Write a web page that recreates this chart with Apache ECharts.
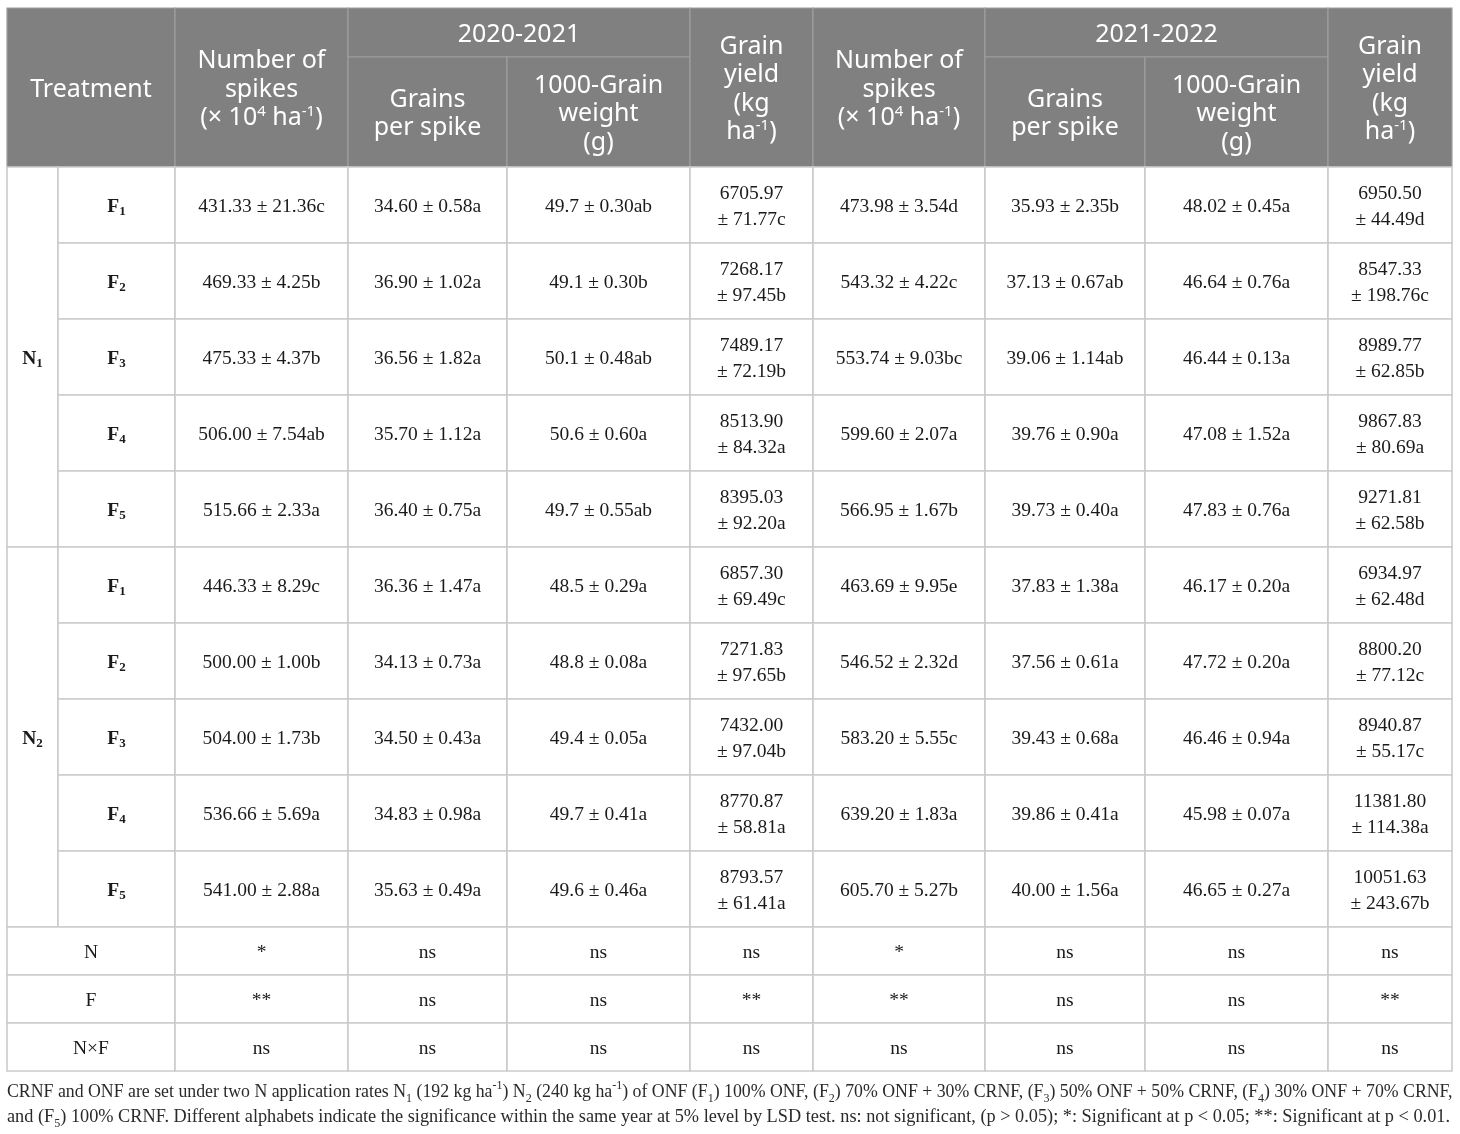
<!DOCTYPE html>
<html><head><meta charset="utf-8">
<script src="https://cdn.jsdelivr.net/npm/echarts@6/dist/echarts.min.js"></script>
<style>html,body{margin:0;padding:0;background:#fff}#c{width:1460px;height:1134px}</style>
</head><body><div id="c"></div>
<script>
// ---------------- DATA ----------------
const nLevels = ['N1', 'N2'];
const fLevels = ['F1', 'F2', 'F3', 'F4', 'F5'];
const yearLabels = ['2020-2021', '2021-2022'];
const sigLabels = ['N', 'F', 'N×F'];

const spikes2021 = ['431.33 ± 21.36c','469.33 ± 4.25b','475.33 ± 4.37b','506.00 ± 7.54ab','515.66 ± 2.33a',
                    '446.33 ± 8.29c','500.00 ± 1.00b','504.00 ± 1.73b','536.66 ± 5.69a','541.00 ± 2.88a'];
const grains2021 = ['34.60 ± 0.58a','36.90 ± 1.02a','36.56 ± 1.82a','35.70 ± 1.12a','36.40 ± 0.75a',
                    '36.36 ± 1.47a','34.13 ± 0.73a','34.50 ± 0.43a','34.83 ± 0.98a','35.63 ± 0.49a'];
const tgw2021    = ['49.7 ± 0.30ab','49.1 ± 0.30b','50.1 ± 0.48ab','50.6 ± 0.60a','49.7 ± 0.55ab',
                    '48.5 ± 0.29a','48.8 ± 0.08a','49.4 ± 0.05a','49.7 ± 0.41a','49.6 ± 0.46a'];
const yield2021  = ['6705.97 ± 71.77c','7268.17 ± 97.45b','7489.17 ± 72.19b','8513.90 ± 84.32a','8395.03 ± 92.20a',
                    '6857.30 ± 69.49c','7271.83 ± 97.65b','7432.00 ± 97.04b','8770.87 ± 58.81a','8793.57 ± 61.41a'];
const spikes2122 = ['473.98 ± 3.54d','543.32 ± 4.22c','553.74 ± 9.03bc','599.60 ± 2.07a','566.95 ± 1.67b',
                    '463.69 ± 9.95e','546.52 ± 2.32d','583.20 ± 5.55c','639.20 ± 1.83a','605.70 ± 5.27b'];
const grains2122 = ['35.93 ± 2.35b','37.13 ± 0.67ab','39.06 ± 1.14ab','39.76 ± 0.90a','39.73 ± 0.40a',
                    '37.83 ± 1.38a','37.56 ± 0.61a','39.43 ± 0.68a','39.86 ± 0.41a','40.00 ± 1.56a'];
const tgw2122    = ['48.02 ± 0.45a','46.64 ± 0.76a','46.44 ± 0.13a','47.08 ± 1.52a','47.83 ± 0.76a',
                    '46.17 ± 0.20a','47.72 ± 0.20a','46.46 ± 0.94a','45.98 ± 0.07a','46.65 ± 0.27a'];
const yield2122  = ['6950.50 ± 44.49d','8547.33 ± 198.76c','8989.77 ± 62.85b','9867.83 ± 80.69a','9271.81 ± 62.58b',
                    '6934.97 ± 62.48d','8800.20 ± 77.12c','8940.87 ± 55.17c','11381.80 ± 114.38a','10051.63 ± 243.67b'];

const sigN  = ['*','ns','ns','ns','*','ns','ns','ns'];
const sigF  = ['**','ns','ns','**','**','ns','ns','**'];
const sigNF = ['ns','ns','ns','ns','ns','ns','ns','ns'];

const headerSpikes = 'Number of\nspikes\n(× 10{sup|4} ha{sup|-1})';
const headerGrains = 'Grains\nper spike';
const headerTgw    = '1000-Grain\nweight\n(g)';
const headerYield  = 'Grain\nyield\n(kg\nha{sup|-1})';
const headerTreat  = 'Treatment';

const footnoteLine1 =
  'CRNF and ONF are set under two N application rates N{sub|1} (192 kg ha{sup|-1}) N{sub|2} (240 kg ha{sup|-1}) of ONF (F{sub|1}) 100% ONF, (F{sub|2}) 70% ONF + 30% CRNF, (F{sub|3}) 50% ONF + 50% CRNF, (F{sub|4}) 30% ONF + 70% CRNF,';
const footnoteLine2 =
  'and (F{sub|5}) 100% CRNF. Different alphabets indicate the significance within the same year at 5% level by LSD test. ns: not significant, (p > 0.05); *: Significant at p < 0.05; **: Significant at p < 0.01.';

// ---------------- LAYOUT ----------------
const colW = [51, 117, 173, 159, 183, 123, 172, 160, 183, 124];
const headTopH = 49, headBotH = 110, bodyH = 76, sigH = 48;
const colX = [0]; colW.forEach(w => colX.push(colX[colX.length - 1] + w));
const totalW = colX[colX.length - 1];
const headH = headTopH + headBotH;
const bodyTop = headH;
const sigTop = bodyTop + bodyH * 10;
const totalH = sigTop + sigH * 3;

const SERIF = '"Liberation Serif", "DejaVu Serif", serif';
const SANS = '"Noto Sans", "Open Sans", sans-serif';

function subLabel(s) { return '{b|' + s[0] + '}{bs|' + s.slice(1) + '}'; }

const cells = [];
function addCell(c0, c1, y0, y1, text, kind) {
  cells.push({ value: [colX[c0], y0, colX[c1], y1], text: text, kind: kind });
}
// header
addCell(0, 2, 0, headH, headerTreat, 'head');
[[2, 0], [6, 1]].forEach(([c, yi]) => {
  addCell(c, c + 1, 0, headH, headerSpikes, 'head');
  addCell(c + 1, c + 3, 0, headTopH, yearLabels[yi], 'head');
  addCell(c + 1, c + 2, headTopH, headH, headerGrains, 'head');
  addCell(c + 2, c + 3, headTopH, headH, headerTgw, 'head');
  addCell(c + 3, c + 4, 0, headH, headerYield, 'head');
});
// body
const columnsData = [spikes2021, grains2021, tgw2021, yield2021, spikes2122, grains2122, tgw2122, yield2122];
nLevels.forEach((n, ni) => {
  addCell(0, 1, bodyTop + ni * 5 * bodyH, bodyTop + (ni + 1) * 5 * bodyH, subLabel(n), 'lab');
  fLevels.forEach((f, fi) => {
    const r = ni * 5 + fi;
    const y0 = bodyTop + r * bodyH, y1 = y0 + bodyH;
    addCell(1, 2, y0, y1, subLabel(f), 'lab');
    columnsData.forEach((arr, k) => {
      let t = arr[r];
      if (k === 3 || k === 7) t = t.replace(' ± ', '\n± ');
      addCell(2 + k, 3 + k, y0, y1, t, 'body');
    });
  });
});
// significance rows
[sigN, sigF, sigNF].forEach((arr, i) => {
  const y0 = sigTop + i * sigH, y1 = y0 + sigH;
  addCell(0, 2, y0, y1, sigLabels[i], 'body');
  arr.forEach((t, k) => addCell(2 + k, 3 + k, y0, y1, t, 'body'));
});

const headRich = {
  sup: { fontFamily: SANS, fontSize: 15, lineHeight: 14, verticalAlign: 'top', fill: '#fff' }
};
const labRich = {
  b:  { fontFamily: SERIF, fontSize: 19.5, fontWeight: 'bold', lineHeight: 22, fill: '#1a1a1a' },
  bs: { fontFamily: SERIF, fontSize: 13, fontWeight: 'bold', lineHeight: 9, verticalAlign: 'bottom', fill: '#1a1a1a' }
};

function renderItem(params, api) {
  const cell = cells[params.dataIndex];
  const p0 = api.coord([api.value(0), api.value(1)]);
  const p1 = api.coord([api.value(2), api.value(3)]);
  const isHead = cell.kind === 'head';
  const rect = {
    type: 'rect',
    shape: { x: p0[0], y: p0[1], width: p1[0] - p0[0], height: p1[1] - p0[1] },
    style: isHead ? { fill: '#7f807f', stroke: '#9d9e9d', lineWidth: 1.2 }
                  : { fill: '#ffffff', stroke: '#cbcbcb', lineWidth: 1.6 }
  };
  const cx = (p0[0] + p1[0]) / 2, cy = (p0[1] + p1[1]) / 2;
  let style;
  if (isHead) {
    style = { text: cell.text, x: cx, y: cy + 2, align: 'center', verticalAlign: 'middle',
      fontFamily: SANS, fontSize: 25, lineHeight: 28.5, fill: '#ffffff', rich: headRich };
  } else if (cell.kind === 'lab') {
    style = { text: cell.text, x: cx, y: cy + 2, align: 'center', verticalAlign: 'middle',
      fontFamily: SERIF, fontSize: 19.5, fontWeight: 'bold', fill: '#1a1a1a', rich: labRich };
  } else {
    style = { text: cell.text, x: cx, y: cy + 2, align: 'center', verticalAlign: 'middle',
      fontFamily: SERIF, fontSize: 19.5, lineHeight: 26, fill: '#1a1a1a' };
  }
  return { type: 'group', children: [rect, { type: 'text', style: style, z2: 10 }] };
}

function footStyle(size) {
  return {
    fontFamily: SERIF, fontSize: size, fontWeight: 'normal', color: '#2a2a2a', lineHeight: 25,
    rich: {
      sub: { fontFamily: SERIF, fontSize: 12, lineHeight: 8, verticalAlign: 'bottom', color: '#2a2a2a' },
      sup: { fontFamily: SERIF, fontSize: 12, lineHeight: 10, verticalAlign: 'top', color: '#2a2a2a' }
    }
  };
}

const chart = echarts.init(document.getElementById('c'), null, { renderer: 'canvas' });
chart.setOption({
  animation: false,
  backgroundColor: '#ffffff',
  title: [
    { left: 2, top: 1075, padding: 5, text: footnoteLine1, textStyle: footStyle(17.8) },
    { left: 2, top: 1100, padding: 5, text: footnoteLine2, textStyle: footStyle(18.3) }
  ],
  grid: { left: 7, top: 8, width: totalW, height: totalH },
  xAxis: { type: 'value', min: 0, max: totalW, show: false },
  yAxis: { type: 'value', min: 0, max: totalH, inverse: true, show: false },
  series: [{
    type: 'custom',
    renderItem: renderItem,
    clip: false,
    encode: { x: [0, 2], y: [1, 3] },
    data: cells.map(c => ({ value: c.value }))
  }]
});
</script></body></html>
